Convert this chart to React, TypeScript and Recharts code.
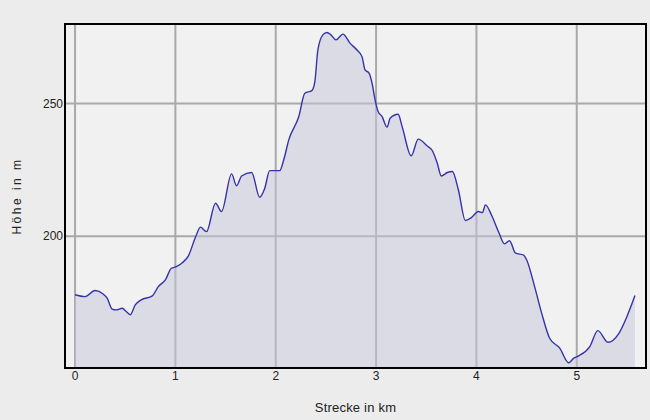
import { AreaChart, Area, XAxis, YAxis, CartesianGrid, ReferenceArea } from 'recharts';

// distance (km) and elevation (m), read from the profile
const distanceKm = [
  0.0, 0.1, 0.2, 0.28, 0.32, 0.37, 0.41, 0.47, 0.51, 0.55, 0.6, 0.66, 0.77, 0.83, 0.9, 0.96,
  1.01, 1.07, 1.13, 1.2, 1.25, 1.31, 1.4, 1.46, 1.56, 1.61, 1.66, 1.76, 1.84, 1.89, 1.94,
  2.04, 2.08, 2.13, 2.23, 2.29, 2.36, 2.39, 2.42, 2.47, 2.51, 2.55, 2.6, 2.67, 2.74, 2.81,
  2.86, 2.89, 2.93, 2.96, 2.99, 3.02, 3.06, 3.11, 3.14, 3.22, 3.26, 3.35, 3.42, 3.51, 3.56,
  3.61, 3.65, 3.71, 3.76, 3.82, 3.89, 3.95, 4.02, 4.06, 4.09, 4.15, 4.22, 4.28, 4.33, 4.39,
  4.47, 4.5, 4.58, 4.65, 4.73, 4.83, 4.92, 4.97, 5.02, 5.13, 5.21, 5.31, 5.42, 5.5, 5.58,
];

const elevationM = [
  177.9, 177.2, 179.5, 178.2, 176.6, 172.5, 172.2, 172.8, 171.6, 170.4, 174.1, 176.0, 177.5,
  181.0, 183.5, 187.9, 188.5, 190.0, 192.6, 199.6, 203.4, 201.7, 212.4, 209.3, 223.5, 219.0,
  222.7, 224.0, 214.7, 218.0, 224.7, 224.7, 228.8, 236.3, 245.1, 253.9, 254.9, 258.3, 270.2,
  275.9, 276.8, 275.9, 274.0, 276.2, 272.8, 270.2, 267.7, 262.7, 261.5, 257.7, 251.4, 247.0,
  245.1, 241.1, 244.5, 246.0, 241.3, 230.3, 236.6, 234.0, 232.3, 227.5, 222.7, 224.0, 224.4,
  217.5, 205.9, 207.0, 209.3, 208.9, 211.8, 208.0, 201.7, 197.1, 198.3, 193.6, 192.9, 191.1,
  181.0, 171.0, 161.5, 157.8, 152.3, 154.0, 154.9, 158.4, 164.4, 160.0, 163.4, 169.7, 177.6,
];

const xTicks = [0, 1, 2, 3, 4, 5];
const yTicks = [200, 250];
const xDomain = [-0.1, 5.69];
const yDomain = [150.3, 280];

const data = distanceKm.map((km, i) => ({ km, m: elevationM[i] }));

const font = 'Liberation Sans, Arial, sans-serif';
const tickStyle = { fontFamily: font, fontSize: 12, fill: '#222' };

export default function App() {
  return (
    <div style={{ width: 650, height: 420 }}>
      <style>{`body{margin:0;background:#ececec}`}</style>
      <AreaChart
        width={650}
        height={420}
        data={data}
        margin={{ top: 24, right: 4, bottom: 0, left: 0 }}
      >
        <CartesianGrid
          fill="#f1f1f1"
          stroke="#a9a9a9"
          strokeWidth={2}
          horizontalValues={yTicks}
          verticalValues={xTicks}
        />
        <XAxis
          dataKey="km"
          type="number"
          domain={xDomain}
          ticks={xTicks}
          allowDataOverflow
          height={52}
          tickSize={0}
          tickMargin={3}
          tickLine={false}
          axisLine={{ stroke: '#000', strokeWidth: 2 }}
          tick={tickStyle}
          label={{
            value: 'Strecke in km',
            position: 'insideBottom',
            offset: 8,
            style: { fontFamily: font, fontSize: 13, fill: '#222', letterSpacing: 0.2 },
          }}
        />
        <YAxis
          type="number"
          domain={yDomain}
          ticks={yTicks}
          allowDataOverflow
          width={65}
          tickSize={0}
          tickMargin={2}
          tickLine={false}
          axisLine={{ stroke: '#000', strokeWidth: 2 }}
          tick={tickStyle}
          label={{
            value: 'Höhe in m',
            angle: -90,
            position: 'insideLeft',
            offset: 17,
            style: { textAnchor: 'middle', fontFamily: font, fontSize: 12, fill: '#222', letterSpacing: 2.5 },
          }}
        />
        <Area
          type="monotone"
          dataKey="m"
          baseValue={yDomain[0]}
          stroke="#3434a8"
          strokeWidth={1.4}
          fill="#c6c6dc"
          fillOpacity={0.5}
          dot={false}
          activeDot={false}
          isAnimationActive={false}
        />
        <ReferenceArea
          x1={xDomain[0]}
          x2={xDomain[1]}
          y1={yDomain[0]}
          y2={yDomain[1]}
          fill="none"
          fillOpacity={0}
          stroke="#000"
          strokeWidth={2}
          ifOverflow="visible"
        />
      </AreaChart>
    </div>
  );
}
